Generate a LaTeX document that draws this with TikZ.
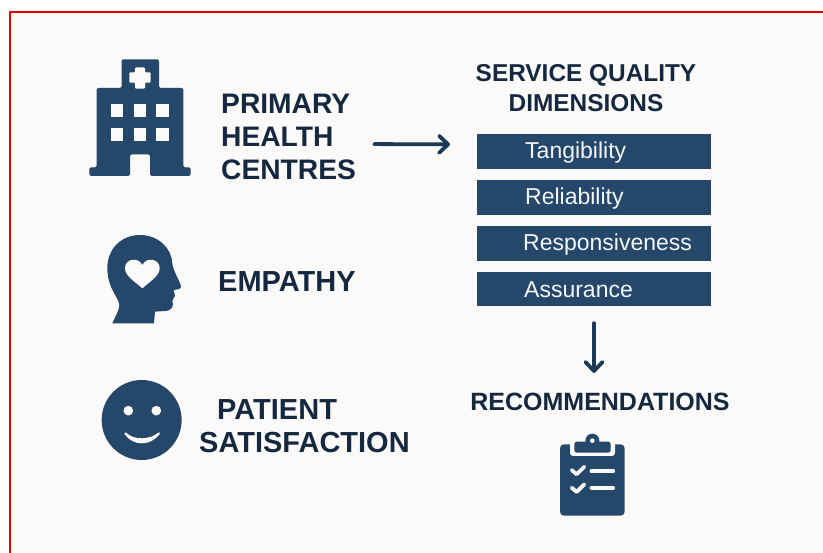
\documentclass[tikz,border=0pt]{standalone}
\usepackage{fontspec}
\setmainfont{Liberation Sans}
\usetikzlibrary{arrows.meta}
\definecolor{navy}{HTML}{25476A}
\definecolor{inktext}{HTML}{14293F}
\definecolor{arrowink}{HTML}{1B3A58}
\definecolor{paper}{HTML}{FBFAF8}
\tikzset{
  heading/.style={font=\fontsize{24.4}{29.5}\selectfont\bfseries, text=inktext, align=center, inner sep=0pt},
  sideheading/.style={heading, font=\fontsize{29}{33}\selectfont\bfseries, align=left, anchor=west},
  barbox/.style={fill=navy, minimum width=234pt, minimum height=34.5pt, inner sep=0pt, outer sep=0pt},
  barlabel/.style={font=\fontsize{23}{26}\selectfont, text=white!95!navy, anchor=west, inner sep=0pt},
  flow/.style={draw=arrowink, line width=3.8pt, line cap=round, -{Straight Barb[length=9pt,width=17pt,line width=3.8pt,round]}},
  icon/.style={fill=navy, draw=none},
  hole/.style={fill=paper, draw=none},
  stroked/.style={draw=paper, line cap=round, line join=round}
}
\begin{document}
\begin{tikzpicture}[x=1pt,y=-1pt]
\useasboundingbox (0,0) rectangle (823,553);
\fill[white] (0,0) rectangle (823,553);
\fill[paper] (10,12) rectangle (823,553);
\draw[red!90!black, line width=2pt] (823,12) -- (10,12) -- (10,553);

% hospital
\fill[icon,rounded corners=1.5pt] (121.7,88) -- (121.7,59.3) -- (159,59.3) -- (159,88) -- (183.3,88) -- (183.3,167.3) -- (190.7,167.3) -- (190.7,176) -- (150,176) -- (150,154.3) -- (130,154.3) -- (130,176) -- (89.3,176) -- (89.3,167.3) -- (96.7,167.3) -- (96.7,88) -- cycle;
\fill[hole,rounded corners=1pt] (135,67.3) -- (145,67.3) -- (145,72.3) -- (150.7,72.3) -- (150.7,82.7) -- (145,82.7) -- (145,88.7) -- (135,88.7) -- (135,82.7) -- (129.3,82.7) -- (129.3,72.3) -- (135,72.3) -- cycle;
\foreach \wx in {110.7,133.7,156.3}
  \foreach \wy in {104.3,128.3}
    \fill[hole] (\wx,\wy) rectangle ++(12.5,12.5);

% head
\begin{scope}[shift={(80,220)},scale=1/3]
\fill[icon] (97,310) .. controls (108,285) and (118,270) .. (118,255)
  .. controls (118,235) and (82,205) .. (82,145)
  .. controls (82,85) and (125,45) .. (180,45)
  .. controls (235,45) and (275,85) .. (277,130)
  .. controls (278,150) and (303,190) .. (303,200)
  .. controls (303,208) and (290,209) .. (281,210)
  .. controls (279,215) and (287,222) .. (285,228)
  .. controls (284,235) and (276,236) .. (277,243)
  .. controls (282,255) and (278,272) .. (255,273)
  -- (225,275) -- (222,310) -- cycle;
\fill[hole] (187,205) .. controls (165,185) and (135,168) .. (135,145)
  .. controls (135,115) and (175,110) .. (187,135)
  .. controls (199,110) and (239,115) .. (239,145)
  .. controls (239,168) and (209,185) .. (187,205) -- cycle;
% smiley
\fill[icon] (185,600) circle (120);
\fill[hole] (145,572) circle (14.5);
\fill[hole] (229,572) circle (14.5);
\filldraw[hole, draw=paper, line width=2pt, line join=round] (136,640) .. controls (160,676) and (210,676) .. (237,640)
  .. controls (210,664) and (160,664) .. (136,640) -- cycle;
\end{scope}

% clipboard
\begin{scope}[shift={(540,420)},scale=1/3]
\fill[icon,rounded corners=4pt] (60,73) rectangle (254,287);
\fill[hole,rounded corners=3pt] (90,60) rectangle (225,108);
\fill[icon,rounded corners=2.5pt] (103,65) rectangle (212,98);
\fill[icon] (157,62) circle (21);
\fill[hole] (157,62) circle (7);
\draw[stroked, line width=3.8pt] (95,150) -- (110,163) -- (133,140);
\draw[stroked, line width=3.8pt] (95,203) -- (110,216) -- (133,193);
\draw[stroked, line width=3.6pt] (154,153) -- (220,153);
\draw[stroked, line width=3.6pt] (154,204) -- (220,204);
\end{scope}

% left labels
\node[sideheading, font=\fontsize{28.2}{33}\selectfont\bfseries] (primary) at (221,137) {PRIMARY\\HEALTH\\CENTRES};
\node[sideheading] (empathy) at (218,282) {EMPATHY};
\node[sideheading] (patient) at (217,410) {PATIENT};
\node[sideheading] (satisfaction) at (199,443) {SATISFACTION};

% right column
\node[heading] (dims) at (586,88) {SERVICE QUALITY\\DIMENSIONS};
\node[barbox] (tang) at (594,151.5) {};
\node[barbox] (reli) at (594,197.5) {};
\node[barbox] (resp) at (594,243.5) {};
\node[barbox] (assu) at (594,289) {};
\node[barlabel] (tangt) at (525,153) {Tangibility};
\node[barlabel] (relit) at (525,199) {Reliability};
\node[barlabel] (respt) at (523,245) {Responsiveness};
\node[barlabel] (assut) at (524,290) {Assurance};
\node[heading, font=\fontsize{25}{29.5}\selectfont\bfseries] (recs) at (600,402) {RECOMMENDATIONS};

% connectors
\coordinate (fromprimary) at ([yshift=-7pt]primary.east);
\coordinate (totang) at ([yshift=7pt]tang.west);
\draw[flow, shorten <=18pt, shorten >=27pt] (fromprimary) -- (totang);
\draw[flow, shorten <=17pt, shorten >=20pt] (assu.south) -- (assu.south |- recs.north);
\end{tikzpicture}
\end{document}
